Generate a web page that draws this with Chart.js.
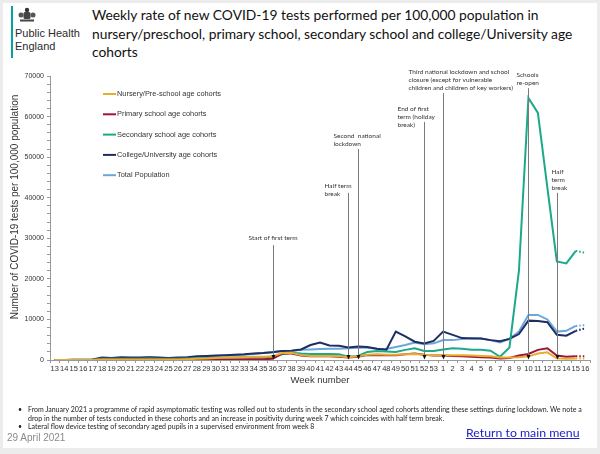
<!DOCTYPE html>
<html>
<head>
<meta charset="utf-8">
<script src="https://cdn.jsdelivr.net/npm/chart.js@4.4.1/dist/chart.umd.min.js"></script>
<style>
html, body { margin: 0; padding: 0; width: 600px; height: 454px; background: #ececec; overflow: hidden; }
#slide { position: absolute; left: 3px; top: 3px; width: 594px; height: 445px; background: #fff; }
#c { position: absolute; left: 0; top: 0; }
.bar { position: absolute; left: 11px; top: 6px; width: 2px; height: 52px; background: #00a4a7; }
.crest { position: absolute; left: 18px; top: 7px; }
.phe { position: absolute; left: 15px; top: 27px; font: 11px "Liberation Sans", Arial, sans-serif; line-height: 12.5px; color: #2b2b2b; }
.title { position: absolute; left: 92px; top: 6px; font: 13.8px Lato, sans-serif; line-height: 18.5px; color: #111; white-space: nowrap; }
.notes { position: absolute; left: 18px; top: 405px; font: 7px Lato, sans-serif; line-height: 8.7px; color: #222; white-space: nowrap; }
.notes div { position: relative; padding-left: 10px; }
.notes span.b { position: absolute; left: 0; }
.date { position: absolute; left: 7px; top: 432px; font: 10px "Liberation Sans", Arial, sans-serif; color: #8a8a8a; }
.link { position: absolute; left: 466px; top: 425px; font: 12.3px Lato, sans-serif; color: #2323c8; text-decoration: underline; }
</style>
</head>
<body>
<div id="slide"></div>
<div class="bar"></div>
<svg class="crest" width="18" height="16" viewBox="0 0 18 16">
  <circle cx="9" cy="3" r="2.2" fill="#333"/>
  <rect x="5.5" y="5" width="7" height="7" rx="1.5" fill="#444"/>
  <circle cx="3" cy="8" r="2.5" fill="#555"/>
  <circle cx="15" cy="8" r="2.5" fill="#555"/>
  <rect x="2" y="12.5" width="14" height="2" fill="#444"/>
</svg>
<div class="phe">Public Health<br>England</div>
<div class="title">Weekly rate of new COVID-19 tests performed per 100,000 population in<br>nursery/preschool, primary school, secondary school and college/University age<br>cohorts</div>
<canvas id="c" width="600" height="454"></canvas>
<div class="notes">
  <div><span class="b">•</span>From January 2021 a programme of rapid asymptomatic testing was rolled out to students in the secondary school aged cohorts attending these settings during lockdown. We note a<br>drop in the number of tests conducted in these cohorts and an increase in positivity during week 7 which coincides with half term break.</div>
  <div><span class="b">•</span>Lateral flow device testing of secondary aged pupils in a supervised environment from week 8</div>
</div>
<div class="date">29 April 2021</div>
<div class="link">Return to main menu</div>

<script>
// week numbers, 2020 week 13 through 2021 week 16
const weekLabels = ['13','14','15','16','17','18','19','20','21','22','23','24','25','26','27','28','29','30','31','32',
  '33','34','35','36','37','38','39','40','41','42','43','44','45','46','47','48','49','50','51','52','53',
  '1','2','3','4','5','6','7','8','9','10','11','12','13','14','15','16'];

const nursery = [0,0,0,0,0,100,100,100,100,100,100,100,100,150,200,300,400,500,600,700,
  700,800,800,900,1700,1800,1200,1000,1000,1000,900,700,900,1300,1400,1300,1300,1400,1500,1300,1200,
  1200,1200,1200,1100,1000,900,600,600,700,900,1600,1900,400,300,400,400];

const primary = [0,0,0,0,0,100,100,100,100,100,100,100,100,100,100,100,150,150,150,150,
  200,200,200,300,1600,1600,1100,900,900,900,800,600,800,1200,1200,1200,1200,1400,1600,1300,1100,
  1100,1000,900,800,700,600,400,500,1100,1500,2500,2900,1100,800,900,900];

const secondary = [0,0,0,0,50,300,300,300,300,300,400,300,300,300,400,400,500,500,600,600,
  700,700,700,700,1400,1800,1600,1500,1500,1500,1400,800,1000,2000,2200,2100,2000,2500,2900,2200,2200,
  2600,2900,2800,2500,2500,2300,800,3100,22000,64600,60900,42500,24300,23800,26900,26400];

const college = [0,0,50,50,100,600,500,700,600,600,700,600,500,600,700,900,1000,1100,1200,1300,
  1400,1600,1700,1900,2200,2300,2600,3700,4300,3600,3500,3100,3300,3200,2800,2500,7000,5800,4500,4100,4700,
  7000,6200,5400,5300,5300,4900,4600,5200,6400,9700,9600,9300,6200,6000,7200,7800];

const total = [0,0,50,50,100,400,400,500,500,500,600,500,500,500,600,700,900,1000,1100,1200,
  1300,1500,1700,2000,2200,2300,2500,2600,2700,2800,2800,2900,3000,3000,2800,2700,3200,3700,4300,3900,4100,
  4900,4900,5200,5400,5300,4900,4300,5200,7000,11100,11100,10000,7000,7200,8400,8600];

const seriesNames = ['Nursery/Pre-school age cohorts', 'Primary school age cohorts', 'Secondary school age cohorts',
  'College/University age cohorts', 'Total Population'];
const seriesColors = ['#e8ad2e', '#9b1637', '#1ba98a', '#1f2d62', '#6ba6dc'];

// event markers: index into weekLabels, text lines, top of the line (in tests per 100,000)
const events = [
  { at: 23, lines: ['Start of first term'], top: 28300, dx: -25, dy: -7 },
  { at: 31, lines: ['Half term', 'break'], top: 41200, dx: -24, dy: 1.5 },
  { at: 32, lines: ['Second  national', 'lockdown'], top: 52000, dx: -25, dy: -5.5 },
  { at: 39, lines: ['End of first', 'term (holiday', 'break)'], top: 58700, dx: -27, dy: 3 },
  { at: 41, lines: ['Third national lockdown and school', 'closure (except for vulnerable', 'children and children of key workers)'], top: 65800, dx: -35, dy: -5.5 },
  { at: 50, lines: ['Schools', 're-open'], top: 67000, dx: -12, dy: -5 },
  { at: 53, lines: ['Half', 'term', 'break'], top: 41200, dx: -6, dy: -5 }
];

const lastIdx = weekLabels.length - 1;

const markerPlugin = {
  id: 'markers',
  afterDatasetsDraw(chart) {
    const ctx = chart.ctx, x = chart.scales.x, y = chart.scales.y;
    ctx.save();
    events.forEach(ev => {
      const px = Math.round(x.getPixelForValue(ev.at)) + 0.5;
      const top = y.getPixelForValue(ev.top);
      const bottom = y.getPixelForValue(0);
      ctx.strokeStyle = '#7a7a7a';
      ctx.lineWidth = 1;
      ctx.beginPath();
      ctx.moveTo(px, top);
      ctx.lineTo(px, bottom - 3);
      ctx.stroke();
      ctx.fillStyle = '#111';
      ctx.beginPath();
      ctx.moveTo(px - 2, bottom - 5);
      ctx.lineTo(px + 2, bottom - 5);
      ctx.lineTo(px, bottom - 0.5);
      ctx.closePath();
      ctx.fill();
      ctx.fillStyle = '#333';
      ctx.font = '6.5px Lato';
      ctx.textAlign = 'left';
      ctx.textBaseline = 'middle';
      const n = ev.lines.length;
      ev.lines.forEach((t, i) => {
        ctx.fillText(t, px + ev.dx, top + ev.dy - (n - 1 - i) * 8);
      });
    });
    ctx.restore();
  }
};

const legendPlugin = {
  id: 'innerLegend',
  afterDraw(chart) {
    const ctx = chart.ctx;
    ctx.save();
    ctx.font = '7.4px "Liberation Sans"';
    ctx.textBaseline = 'middle';
    ctx.textAlign = 'left';
    chart.data.datasets.forEach((ds, i) => {
      const yy = 94 + i * 20.3;
      ctx.strokeStyle = ds.borderColor;
      ctx.lineWidth = 2;
      ctx.beginPath();
      ctx.moveTo(103, yy);
      ctx.lineTo(116, yy);
      ctx.stroke();
      ctx.fillStyle = '#333';
      ctx.fillText(ds.label, 117, yy);
    });
    // y axis title
    ctx.translate(15, 207);
    ctx.rotate(-Math.PI / 2);
    ctx.textAlign = 'center';
    ctx.font = '10px "Liberation Sans"';
    ctx.fillStyle = '#333';
    ctx.fillText('Number of COVID-19 tests per 100,000 population', 0, 0);
    ctx.restore();
  }
};

const seriesData = [nursery, primary, secondary, college, total];

new Chart(document.getElementById('c'), {
  type: 'line',
  data: {
    labels: weekLabels,
    datasets: seriesData.map((d, i) => ({
      label: seriesNames[i],
      data: d,
      borderColor: seriesColors[i],
      backgroundColor: seriesColors[i],
      borderWidth: 2,
      pointRadius: 0,
      tension: 0,
      segment: {
        borderDash: c => c.p1DataIndex === lastIdx ? [1.5, 2] : undefined
      }
    }))
  },
  options: {
    responsive: false,
    animation: false,
    events: [],
    layout: { padding: { top: 76, right: 10, bottom: 64, left: 0 } },
    plugins: { legend: { display: false }, tooltip: { enabled: false } },
    scales: {
      x: {
        offset: true,
        afterFit(s) { s.height = 30; },
        grid: { display: true, drawOnChartArea: false, offset: true, tickLength: 3, color: '#999' },
        border: { color: '#999' },
        ticks: { autoSkip: false, maxRotation: 0, minRotation: 0, padding: 1, color: '#333',
          font: { family: 'Liberation Sans', size: 7.5 } },
        title: { display: true, text: 'Week number', color: '#333', padding: { top: 2, bottom: 4 },
          font: { family: 'Liberation Sans', size: 9.5 } }
      },
      y: {
        min: 0,
        max: 70000,
        afterFit(s) { s.width = 50; },
        grid: { display: true, drawOnChartArea: false, tickLength: 3, color: '#999' },
        border: { color: '#999' },
        ticks: { stepSize: 2000, autoSkip: false, padding: 3, color: '#333',
          font: { family: 'Liberation Sans', size: 7 },
          callback: v => v % 10000 === 0 ? String(v) : '' }
      }
    }
  },
  plugins: [markerPlugin, legendPlugin]
});
</script>
</body>
</html>
